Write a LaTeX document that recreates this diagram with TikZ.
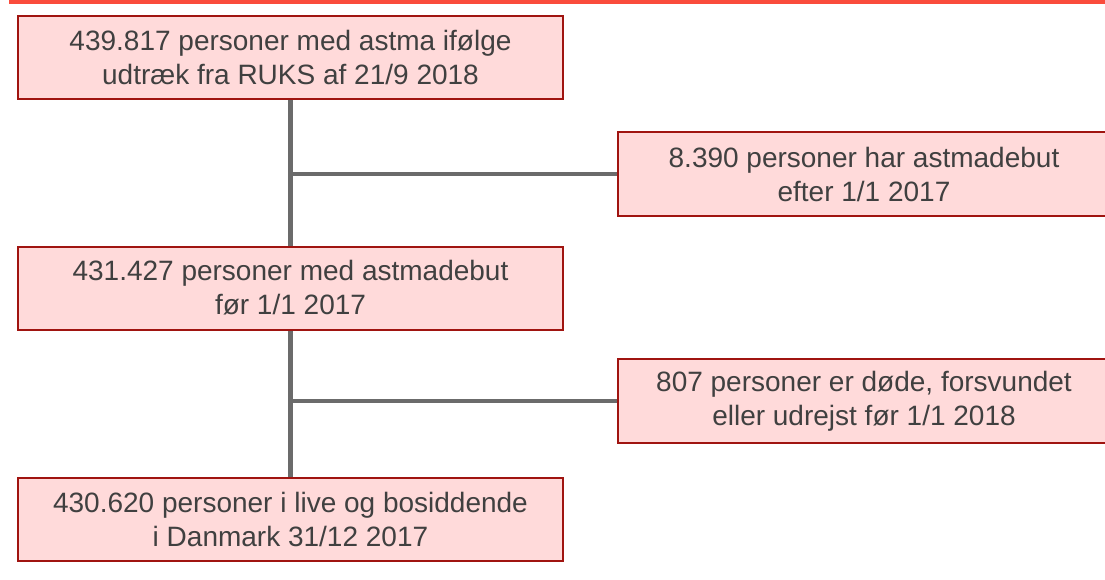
\documentclass[tikz,border=0pt]{standalone}
\usepackage{fontspec}
\setmainfont{Liberation Sans}
\usepackage{xcolor}
\definecolor{boxfill}{RGB}{255,218,218}
\definecolor{boxline}{RGB}{160,20,16}
\definecolor{linkgray}{RGB}{107,107,107}
\definecolor{textgray}{RGB}{64,64,64}
\definecolor{barred}{RGB}{250,76,60}

\begin{document}
\begin{tikzpicture}[x=1pt,y=-1pt,
    flowbox/.style={draw=boxline, line width=2pt, fill=boxfill, text=textgray,
      align=center, inner sep=0pt, font=\fontsize{28}{34}\selectfont},
    mainbox/.style={flowbox, minimum width=545pt, minimum height=83pt},
    sidebox/.style={flowbox, minimum width=492pt, minimum height=84pt},
    link/.style={draw=linkgray, line width=4.5pt}]
      \useasboundingbox (0,0) rectangle (1105,579);

      % Top bar
      \fill[barred] (9,0) rectangle (1105,3.5);

      % Boxes
      \node[mainbox] (total) at (290.5,57.5) {439.817 personer med astma ifølge\\udtræk fra RUKS af 21/9 2018};
      \node[sidebox] (late) at (864,174) {8.390 personer har astmadebut\\efter 1/1 2017};
      \node[mainbox] (early) at (290.5,288) {431.427 personer med astmadebut\\før 1/1 2017};
      \node[sidebox] (gone) at (864,401) {807 personer er døde, forsvundet\\eller udrejst før 1/1 2018};
      \node[mainbox] (alive) at (290.5,519) {430.620 personer i live og bosiddende\\i Danmark 31/12 2017};

      % Links
      \draw[link] (total) -- (early);
      \draw[link] (early) -- (alive);
      \draw[link] (total.south |- late.west) -- (late.west);
      \draw[link] (early.south |- gone.west) -- (gone.west);
    \end{tikzpicture}
\end{document}
